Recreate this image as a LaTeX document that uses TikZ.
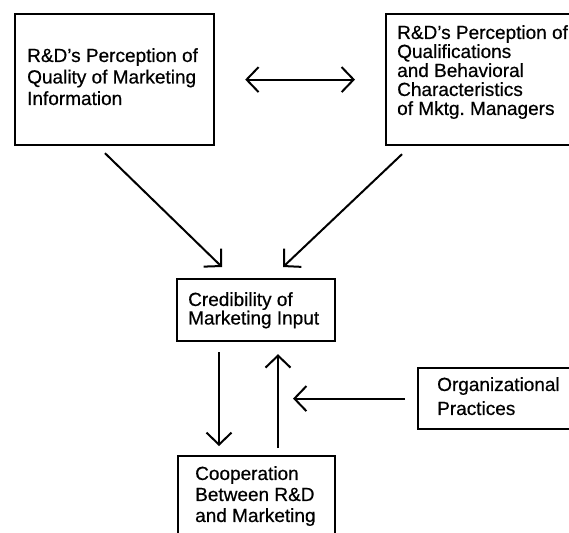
\documentclass[tikz,border=0pt]{standalone}
\usepackage{fontspec}
\setmainfont{Liberation Sans}[BoldFont={Liberation Sans}, BoldFeatures={FakeBold=0.5}]
\usetikzlibrary{arrows.meta,calc}

\tikzset{
  box/.style={draw, line width=2.2pt, anchor=north west, inner sep=0pt},
  label text/.style={anchor=north west, inner sep=0pt, align=left,
    font=\fontsize{19}{21}\selectfont},
  barb/.tip={Straight Barb[length=12pt,width=25pt,line width=2pt]},
  link/.style={line width=2pt, -barb},
  twoway/.style={line width=2pt, barb-barb}
}

\begin{document}
\begin{tikzpicture}[x=1pt,y=-1pt]
  \clip (0,0) rectangle (569,532);
  \fill[white] (0,0) rectangle (569,532);

  % frames
  \node[box, minimum width=199pt, minimum height=131pt] (quality) at (14,13) {};
  \node[box, minimum width=200pt, minimum height=131pt] (qualif) at (385,13) {};
  \node[box, minimum width=158pt, minimum height=62pt] (cred) at (176,278) {};
  \node[box, minimum width=170pt, minimum height=61pt] (org) at (417,367) {};
  \node[box, minimum width=157pt, minimum height=100pt] (coop) at (177,455) {};

  % captions
  \node[label text, font=\fontsize{19}{21.5}\selectfont\bfseries] (qualityTxt) at (27,48)
    {R\&D's Perception of\\Quality of Marketing\\Information};
  \node[label text, font=\fontsize{19}{19}\selectfont\bfseries] (qualifTxt) at (397,25)
    {R\&D's Perception of\\Qualifications\\and Behavioral\\Characteristics\\of Mktg.\ Managers};
  \node[label text, font=\fontsize{19}{18.5}\selectfont\bfseries] (credTxt) at (188,292)
    {Credibility of\\Marketing Input};
  \node[label text, font=\fontsize{19}{24}\selectfont\bfseries] (orgTxt) at (437,377)
    {Organizational\\Practices};
  \node[label text, font=\fontsize{19}{21}\selectfont\bfseries] (coopTxt) at (195,466)
    {Cooperation\\Between R\&D\\and Marketing};

  % connectors
  \draw[twoway, shorten <=30pt, shorten >=30pt] (quality.east) -- (qualif.west);
  \draw[link] ($(quality.south west)+(91,7)$) -- ($(cred.north west)+(46,-11)$);
  \draw[link] ($(qualif.south west)+(17,8)$) -- ($(cred.north west)+(107,-11)$);
  \draw[link] ($(cred.south west)+(43,10)$) -- ($(coop.north west)+(42,-9)$);
  \draw[link] ($(coop.north west)+(101,-7)$) -- ($(cred.south west)+(102,12)$);
  \draw[link] ($(org.west)+(-12,0)$) -- ($(org.west)+(-124,0)$);
\end{tikzpicture}
\end{document}
